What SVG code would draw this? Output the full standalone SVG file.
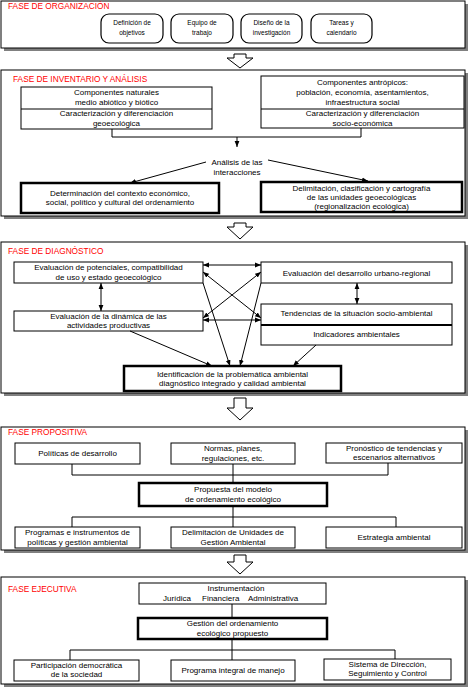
<svg xmlns="http://www.w3.org/2000/svg" width="473" height="692" viewBox="0 0 473 692">
<style>
.ph{fill:#fff;stroke:#000;stroke-width:1}
.sh{fill:#808080}
.bx{fill:#fff;stroke:#000;stroke-width:1}
.tk{fill:#fff;stroke:#000;stroke-width:2.5}
.rb{fill:#fff;stroke:#000;stroke-width:1.2}
.ttl{font-family:"Liberation Sans",Arial,sans-serif;font-size:8.3px;fill:#ff0000}
text{font-family:"Liberation Sans",Arial,sans-serif;font-size:8px;fill:#000}
.c{text-anchor:middle}
.sm{font-size:6.5px}
.ln{fill:none;stroke:#000;stroke-width:1}
.ar{fill:none;stroke:#000;stroke-width:1;marker-end:url(#ah)}
.dar{fill:none;stroke:#000;stroke-width:1;marker-start:url(#ah);marker-end:url(#ah)}
.blk{fill:#fff;stroke:#000;stroke-width:1}
</style>
<defs>
<marker id="ah" viewBox="0 0 10 10" refX="10" refY="5" markerWidth="6" markerHeight="6" markerUnits="userSpaceOnUse" orient="auto-start-reverse"><path d="M0,1 L10,5 L0,9 z" fill="#000"/></marker>
</defs>
<rect width="473" height="692" fill="#fff"/>

<!-- Phase 1 -->
<g id="fase-organizacion">
<rect class="sh" x="4" y="4" width="464" height="47"/>
<rect class="ph" x="1" y="1" width="464" height="47"/>
<text class="ttl" x="8" y="9">FASE DE ORGANIZACIÓN</text>
</g>
<g id="definicion"><rect class="rb" x="101" y="14" width="62" height="29" rx="8"/><text class="c sm" x="132" y="25">Definición de</text><text class="c sm" x="132" y="35">objetivos</text></g>
<g id="equipo"><rect class="rb" x="171" y="14" width="62" height="29" rx="8"/><text class="c sm" x="202" y="25">Equipo de</text><text class="c sm" x="202" y="35">trabajo</text></g>
<g id="diseno"><rect class="rb" x="241" y="14" width="61" height="29" rx="8"/><text class="c sm" x="271.5" y="25">Diseño de la</text><text class="c sm" x="271.5" y="35">investigación</text></g>
<g id="tareas"><rect class="rb" x="311" y="14" width="61" height="29" rx="8"/><text class="c sm" x="341.5" y="25">Tareas y</text><text class="c sm" x="341.5" y="35">calendario</text></g>

<!-- Phase 2 -->
<g id="fase-inventario">
<rect class="sh" x="4" y="73" width="464" height="146"/>
<rect class="ph" x="1" y="70" width="464" height="146"/>
<text class="ttl" x="13" y="82">FASE DE INVENTARIO Y ANÁLISIS</text>
</g>
<g id="componentes-naturales">
<rect class="bx" x="21" y="87" width="191" height="42"/>
<line class="ln" x1="21" y1="109" x2="212" y2="109"/>
<text class="c" x="116.5" y="95">Componentes naturales</text>
<text class="c" x="116.5" y="105">medio abiótico y biótico</text>
<text class="c" x="116.5" y="116">Caracterización y diferenciación</text>
<text class="c" x="116.5" y="126">geoecológica</text>
</g>
<g id="componentes-antropicos">
<rect class="bx" x="261" y="76" width="203" height="52"/>
<line class="ln" x1="261" y1="109" x2="464" y2="109"/>
<text class="c" x="362.5" y="85">Componentes antrópicos:</text>
<text class="c" x="362.5" y="95">población, economía, asentamientos,</text>
<text class="c" x="362.5" y="105">infraestructura social</text>
<text class="c" x="362.5" y="116">Caracterización y diferenciación</text>
<text class="c" x="362.5" y="126">socio-económica</text>
</g>
<g id="analisis">
<text class="c" x="237" y="165">Análisis de las</text>
<text class="c" x="237" y="175">interacciones</text>
</g>
<g id="contexto">
<rect class="tk" x="21" y="183" width="198" height="30"/>
<text class="c" x="120" y="196">Determinación del contexto económico,</text>
<text class="c" x="120" y="205">social, político y cultural del ordenamiento</text>
</g>
<g id="delimitacion-unidades">
<rect class="tk" x="261" y="182" width="201" height="30"/>
<text class="c" x="361.5" y="191">Delimitación, clasificación y cartografía</text>
<text class="c" x="361.5" y="200">de las unidades geoecológicas</text>
<text class="c" x="361.5" y="209">(regionalización ecológica)</text>
</g>

<!-- Phase 3 -->
<g id="fase-diagnostico">
<rect class="sh" x="4" y="245" width="464" height="151"/>
<rect class="ph" x="1" y="242" width="464" height="151"/>
<text class="ttl" x="8" y="254">FASE DE DIAGNÓSTICO</text>
</g>
<g id="potenciales">
<rect class="bx" x="14" y="262" width="189" height="21"/>
<text class="c" x="108.5" y="270">Evaluación de potenciales, compatibilidad</text>
<text class="c" x="108.5" y="280">de uso y estado geoecológico</text>
</g>
<g id="dinamica">
<rect class="bx" x="14" y="311" width="189" height="20"/>
<text class="c" x="108.5" y="319">Evaluación de la dinámica de las</text>
<text class="c" x="108.5" y="328">actividades productivas</text>
</g>
<g id="urbano">
<rect class="bx" x="261" y="262" width="191" height="21"/>
<text class="c" x="356.5" y="275.5">Evaluación del desarrollo urbano-regional</text>
</g>
<g id="tendencias">
<rect class="bx" x="261" y="304" width="191" height="41"/>
<line x1="261" y1="325" x2="452" y2="325" stroke="#000" stroke-width="2"/>
<text class="c" x="356.5" y="316">Tendencias de la situación socio-ambiental</text>
<text class="c" x="356.5" y="337">Indicadores ambientales</text>
</g>
<g id="problematica">
<rect class="tk" x="124" y="366" width="217" height="25"/>
<text class="c" x="232.5" y="377">Identificación de la problemática ambiental</text>
<text class="c" x="232.5" y="386">diagnóstico integrado y calidad ambiental</text>
</g>

<!-- Phase 4 -->
<g id="fase-propositiva">
<rect class="sh" x="4" y="430" width="464" height="123"/>
<rect class="ph" x="1" y="427" width="464" height="123"/>
<text class="ttl" x="8" y="435">FASE PROPOSITIVA</text>
</g>
<g id="politicas"><rect class="bx" x="15" y="443" width="125" height="21"/><text class="c" x="77.5" y="456">Políticas de desarrollo</text></g>
<g id="normas"><rect class="bx" x="171" y="443" width="124" height="21"/><text class="c" x="233" y="451">Normas, planes,</text><text class="c" x="233" y="461">regulaciones, etc.</text></g>
<g id="pronostico"><rect class="bx" x="326" y="443" width="136" height="20"/><text class="c" x="394" y="451">Pronóstico de tendencias y</text><text class="c" x="394" y="460">escenarios alternativos</text></g>
<g id="propuesta"><rect class="tk" x="139" y="483" width="188" height="23"/><text class="c" x="233" y="492">Propuesta del modelo</text><text class="c" x="233" y="502">de ordenamiento ecológico</text></g>
<g id="programas"><rect class="bx" x="15" y="527" width="125" height="21"/><text class="c" x="77.5" y="535">Programas e instrumentos de</text><text class="c" x="77.5" y="545">políticas y gestión ambiental</text></g>
<g id="delimitacion-uga"><rect class="bx" x="171" y="527" width="124" height="21"/><text class="c" x="233" y="535">Delimitación de Unidades de</text><text class="c" x="233" y="545">Gestión Ambiental</text></g>
<g id="estrategia"><rect class="bx" x="326" y="527" width="136" height="21"/><text class="c" x="394" y="540">Estrategia ambiental</text></g>

<!-- Phase 5 -->
<g id="fase-ejecutiva">
<rect class="sh" x="4" y="580" width="464" height="107"/>
<rect class="ph" x="1" y="577" width="464" height="107"/>
<text class="ttl" x="8" y="592">FASE EJECUTIVA</text>
</g>
<g id="instrumentacion"><rect class="bx" x="139" y="583" width="187" height="21"/><text class="c" x="236" y="591">Instrumentación</text><text x="163" y="601">Jurídica</text><text x="202" y="601">Financiera</text><text x="248" y="601">Administrativa</text></g>
<g id="gestion"><rect class="tk" x="138" y="618" width="189" height="21"/><text class="c" x="232.5" y="626">Gestión del ordenamiento</text><text class="c" x="232.5" y="636">ecológico propuesto</text></g>
<g id="participacion"><rect class="bx" x="14" y="660" width="125" height="21"/><text class="c" x="76.5" y="668">Participación democrática</text><text class="c" x="76.5" y="677">de la sociedad</text></g>
<g id="programa-integral"><rect class="bx" x="171" y="660" width="124" height="21"/><text class="c" x="233" y="673">Programa integral de manejo</text></g>
<g id="sistema"><rect class="bx" x="324" y="659" width="127" height="21"/><text class="c" x="387.5" y="667">Sistema de Dirección,</text><text class="c" x="387.5" y="676">Seguimiento y Control</text></g>

<!-- Connectors -->
<g id="connectors">
<polygon class="blk" points="234,54 246,54 246,58 253,58 240,68 227,58 234,58"/>
<polygon class="blk" points="234,223 246,223 246,227 253,227 240,239 227,227 234,227"/>
<polygon class="blk" points="234,398 246,398 246,408 253,408 240,420 227,408 234,408"/>
<polygon class="blk" points="234,555 246,555 246,562 253,562 240,574 227,562 234,562"/>
<polyline class="ln" points="112,129 112,137 361,137 361,128"/>
<line class="ar" x1="237" y1="137" x2="237" y2="147"/>
<line class="ar" x1="206" y1="162" x2="130" y2="183"/>
<line class="ar" x1="268" y1="160" x2="368" y2="181"/>
<line class="dar" x1="101" y1="283" x2="101" y2="311"/>
<line class="dar" x1="357" y1="283" x2="357" y2="304"/>
<line class="dar" x1="203" y1="265" x2="261" y2="265"/>
<line class="dar" x1="203" y1="320" x2="261" y2="320"/>
<line class="dar" x1="203" y1="272" x2="261" y2="318"/>
<line class="dar" x1="203" y1="318" x2="261" y2="272"/>
<line class="ar" x1="203" y1="283" x2="230" y2="366"/>
<line class="ar" x1="261" y1="283" x2="240" y2="366"/>
<line class="ar" x1="130" y1="331" x2="212" y2="366"/>
<line class="ar" x1="316" y1="345" x2="293" y2="366"/>
<polyline class="ln" points="72,464 72,475 388,475 388,463"/>
<line class="ln" x1="233" y1="464" x2="233" y2="483"/>
<line class="ln" x1="233" y1="506" x2="233" y2="527"/>
<polyline class="ln" points="72,527 72,517 396,517 396,527"/>
<line class="ln" x1="232" y1="604" x2="232" y2="618"/>
<line class="ln" x1="232" y1="639" x2="232" y2="660"/>
<polyline class="ln" points="70,660 70,650 395,650 395,659"/>
</g>
</svg>
